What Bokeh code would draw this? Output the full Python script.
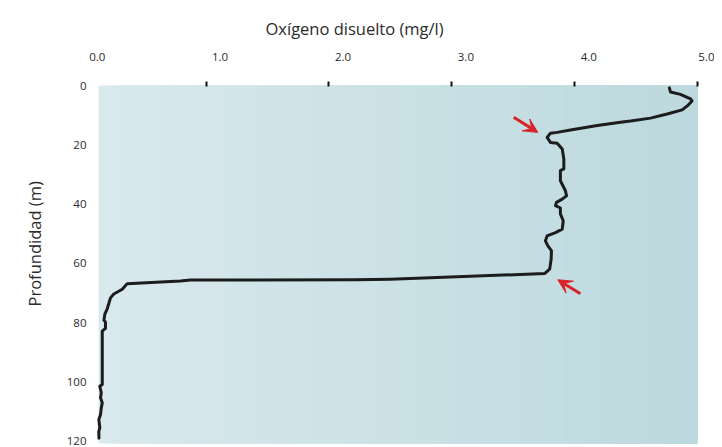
from bokeh.plotting import figure
from bokeh.models import (Range1d, FixedTicker, Arrow, VeeHead, CustomJSTickFormatter,
                          LinearAxis, Title)
from bokeh.embed import file_html
from bokeh.resources import INLINE
import numpy as np

# Data: dissolved oxygen (mg/l) vs depth (m)
oxygen = [4.770, 4.779, 4.860, 4.942, 4.954, 4.918, 4.874, 4.752, 4.616, 4.454,
          4.372, 4.183, 3.965, 3.857, 3.802, 3.775, 3.802, 3.857, 3.898, 3.911,
          3.911, 3.883, 3.883, 3.924, 3.933, 3.898, 3.851, 3.843, 3.883, 3.883,
          3.906, 3.898, 3.843, 3.775, 3.761, 3.781, 3.810, 3.808, 3.796, 3.754,
          2.500, 2.215, 0.873, 0.791, 0.358, 0.318, 0.249, 0.222, 0.196, 0.176,
          0.169, 0.181, 0.181, 0.155, 0.155, 0.135, 0.147, 0.141, 0.155, 0.147,
          0.141, 0.127, 0.135, 0.127, 0.128]
depth = [0.8, 2.2, 3.0, 4.5, 5.2, 6.8, 8.2, 9.6, 11.0, 12.0,
         12.4, 13.5, 15.0, 15.8, 16.1, 17.5, 19.2, 19.5, 21.4, 24.8,
         28.1, 28.7, 32.1, 35.5, 37.2, 38.3, 39.4, 40.5, 41.3, 43.3,
         45.6, 48.4, 49.6, 50.7, 52.4, 54.1, 55.7, 58.5, 61.9, 63.4,
         65.3, 65.5, 65.6, 65.9, 66.8, 68.7, 70.3, 71.6, 75.2, 77.1,
         79.1, 79.8, 81.9, 82.8, 100.8, 101.4, 103.6, 105.3, 107.0, 108.7,
         110.9, 112.6, 115.4, 116.6, 118.9]

x_tick_labels = [0, 1, 2, 3, 4, 5]
x_tick_marks = [1, 2, 3, 4, 5]
y_ticks = [0, 20, 40, 60, 80, 100, 120]

x_title = "Oxígeno disuelto (mg/l)"
y_title = "Profundidad (m)"

# shaded panel extent (data units)
panel_x = [0.125, 5.0]
panel_y = [0.0, 120.7]

# Arrow annotations (tail -> tip), in data units
arrow_x_start = [3.503, 4.046]
arrow_y_start = [10.7, 70.2]
arrow_x_end = [3.699, 3.862]
arrow_y_end = [15.8, 65.5]

X0, X1 = 0.043, 5.137
LABEL_SHIFT = 0.114

p = figure(width=714, height=447, output_backend="svg", toolbar_location=None,
           x_range=Range1d(X0, X1), y_range=Range1d(panel_y[1], panel_y[0]),
           x_axis_location=None, min_border_left=88, min_border_top=85,
           min_border_right=0, min_border_bottom=4)
p.extra_x_ranges = {"lab": Range1d(X0 - LABEL_SHIFT, X1 - LABEL_SHIFT)}

p.background_fill_color = "white"
p.border_fill_color = "white"
p.outline_line_color = None
p.grid.visible = False

# horizontal colour gradient of the shaded panel (each strip runs to the right edge)
n = 160
lefts = np.linspace(panel_x[0], panel_x[1], n + 1)[:-1]
c0 = np.array([217, 233, 237], dtype=float)
c1 = np.array([188, 217, 222], dtype=float)
cols = []
for i in range(n):
    t = i / (n - 1)
    c = np.round(c0 * (1 - t) + c1 * t).astype(int)
    cols.append("#%02x%02x%02x" % tuple(c))
p.quad(left=lefts, right=[panel_x[1]] * n, bottom=panel_y[1], top=panel_y[0],
       fill_color=cols, line_color=None)

p.line(oxygen, depth, line_color="#1c1c1c", line_width=3, line_join="round", line_cap="round")

red = "#d9232b"
for xs, ys, xe, ye in zip(arrow_x_start, arrow_y_start, arrow_x_end, arrow_y_end):
    p.add_layout(Arrow(end=VeeHead(size=14, fill_color=red, line_color=red, line_width=1),
                       x_start=xs, y_start=ys, x_end=xe, y_end=ye,
                       line_color=red, line_width=3))

font = "Open Sans"
txt = "#2b2b2b"

# tick marks axis (innermost)
tick_axis = LinearAxis(ticker=FixedTicker(ticks=x_tick_marks),
                       formatter=CustomJSTickFormatter(code="return '';"))
tick_axis.axis_line_color = None
tick_axis.major_tick_line_color = "#111111"
tick_axis.major_tick_line_width = 2
tick_axis.major_tick_out = 4
tick_axis.major_tick_in = 1
tick_axis.minor_tick_line_color = None
tick_axis.major_label_standoff = 0
p.add_layout(tick_axis, "above")

# labels axis
lab_axis = LinearAxis(x_range_name="lab", ticker=FixedTicker(ticks=x_tick_labels),
                      formatter=CustomJSTickFormatter(code="return tick.toFixed(1);"))
lab_axis.major_label_text_font = font
lab_axis.major_label_text_font_size = "11.5px"
lab_axis.major_label_text_color = txt
lab_axis.major_label_standoff = 21
lab_axis.axis_line_color = None
lab_axis.major_tick_line_color = None
lab_axis.major_tick_out = 0
lab_axis.major_tick_in = 0
lab_axis.minor_tick_line_color = None
p.add_layout(lab_axis, "above")

p.add_layout(Title(text=x_title, align="left", offset=177, standoff=19,
                   text_font=font, text_font_size="16.5px", text_font_style="normal",
                   text_color=txt), "above")

ya = p.yaxis[0]
ya.ticker = FixedTicker(ticks=y_ticks)
ya.major_label_text_font = font
ya.major_label_text_font_size = "11.5px"
ya.major_label_text_color = txt
ya.major_label_standoff = 2
ya.axis_line_color = None
ya.major_tick_line_color = None
ya.major_tick_out = 0
ya.major_tick_in = 0
ya.minor_tick_line_color = None

p.add_layout(Title(text=y_title, align="left", offset=137, standoff=36,
                   text_font=font, text_font_size="16.5px", text_font_style="normal",
                   text_color=txt), "left")

open("out.html", "w").write(file_html(p, INLINE))
